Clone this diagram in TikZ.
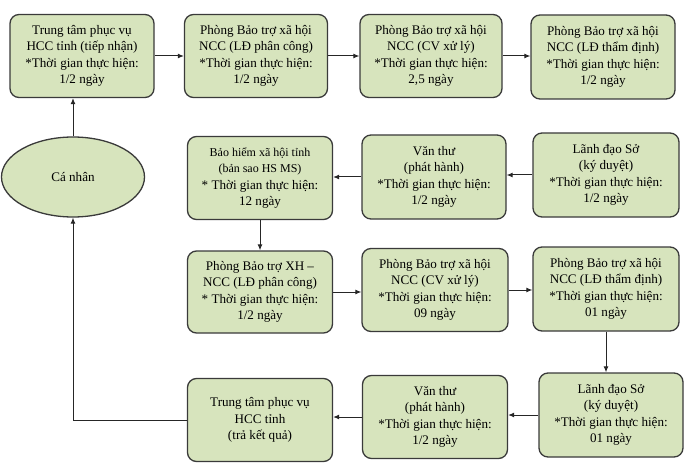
\documentclass[tikz,border=0pt]{standalone}
\usepackage{fontspec}
\setmainfont{Liberation Serif}
\usetikzlibrary{arrows.meta,shapes.geometric}
\definecolor{boxfill}{HTML}{D7E4BD}
\definecolor{boxline}{HTML}{3A3A3A}
\tikzset{
  stepbox/.style={draw=boxline, line width=1.3pt, fill=boxfill, rounded corners=9pt,
    align=center, inner sep=0pt, font=\fontsize{13.1}{16.3}\selectfont},
  conn/.style={draw=black!85, line width=1pt, -{Latex[length=6pt,width=5pt]}},
  plain/.style={draw=black!85, line width=1pt}
}
\begin{document}
\begin{tikzpicture}[x=1pt,y=-1pt]
\useasboundingbox (0,0) rectangle (690,465);
% row 1
\node[stepbox, minimum width=144pt, minimum height=83pt] (a1) at (82,56) {Trung tâm phục vụ\\HCC tỉnh (tiếp nhận)\\*Thời gian thực hiện:\\1/2 ngày};
\node[stepbox, minimum width=143pt, minimum height=83pt] (a2) at (256,56) {Phòng Bảo trợ xã hội\\NCC (LĐ phân công)\\*Thời gian thực hiện:\\1/2 ngày};
\node[stepbox, minimum width=142pt, minimum height=83pt] (a3) at (431,56) {Phòng Bảo trợ xã hội\\NCC (CV xử lý)\\*Thời gian thực hiện:\\2,5 ngày};
\node[stepbox, minimum width=144pt, minimum height=84pt] (a4) at (603,57) {Phòng Bảo trợ xã hội\\NCC (LĐ thẩm định)\\*Thời gian thực hiện:\\1/2 ngày};
% row 2
\node[ellipse, draw=boxline, line width=1.3pt, fill=boxfill, minimum width=143pt, minimum height=80pt, inner sep=0pt, font=\fontsize{13.1}{16.3}\selectfont] (cn) at (73,177) {Cá nhân};
\node[stepbox, minimum width=145pt, minimum height=83pt] (b1) at (260,178) {{\fontsize{12}{15}\selectfont Bảo hiểm xã hội tỉnh}\\{\fontsize{12}{15}\selectfont (bản sao HS MS)}\\* Thời gian thực hiện:\\12 ngày};
\node[stepbox, minimum width=144pt, minimum height=84pt] (b2) at (434,177) {Văn thư\\(phát hành)\\*Thời gian thực hiện:\\1/2 ngày};
\node[stepbox, minimum width=146pt, minimum height=84pt] (b3) at (606,175) {Lãnh đạo Sở\\(ký duyệt)\\*Thời gian thực hiện:\\1/2 ngày};
% row 3
\node[stepbox, minimum width=145pt, minimum height=82pt] (c1) at (260,292) {Phòng Bảo trợ XH –\\NCC (LĐ phân công)\\* Thời gian thực hiện:\\1/2 ngày};
\node[stepbox, minimum width=146pt, minimum height=83pt] (c2) at (435,290) {Phòng Bảo trợ xã hội\\NCC (CV xử lý)\\*Thời gian thực hiện:\\09 ngày};
\node[stepbox, minimum width=146pt, minimum height=84pt] (c3) at (606,289) {Phòng Bảo trợ xã hội\\NCC (LĐ thẩm định)\\*Thời gian thực hiện:\\01 ngày};
% row 4
\node[stepbox, minimum width=145pt, minimum height=83pt] (d1) at (260,420) {Trung tâm phục vụ\\HCC tỉnh\\(trả kết quả)};
\node[stepbox, minimum width=145pt, minimum height=83pt] (d2) at (435,417) {Văn thư\\(phát hành)\\*Thời gian thực hiện:\\1/2 ngày};
\node[stepbox, minimum width=144pt, minimum height=84pt] (d3) at (611,415) {Lãnh đạo Sở\\(ký duyệt)\\*Thời gian thực hiện:\\01 ngày};
% connectors
\draw[conn] (cn.north) -- (cn.north |- a1.south);
\draw[conn] (a1.east) -- (a1.east -| a2.west);
\draw[conn] (a2.east) -- (a2.east -| a3.west);
\draw[conn] (a3.east) -- (a3.east -| a4.west);
\draw[conn] (b3.west) -- (b3.west -| b2.east);
\draw[conn] (b2.west) -- (b2.west -| b1.east);
\draw[conn] (b1.south) -- (b1.south |- c1.north);
\draw[conn] (c1.east) -- (c1.east -| c2.west);
\draw[conn] (c2.east) -- (c2.east -| c3.west);
\draw[conn] (c3.south) -- (c3.south |- d3.north);
\draw[conn] (d3.west) -- (d3.west -| d2.east);
\draw[conn] (d2.west) -- (d2.west -| d1.east);
\coordinate (corner) at (cn.south |- d1.west);
\draw[plain] (d1.west) -- (corner);
\draw[conn] (corner) -- (cn.south);
\end{tikzpicture}
\end{document}
